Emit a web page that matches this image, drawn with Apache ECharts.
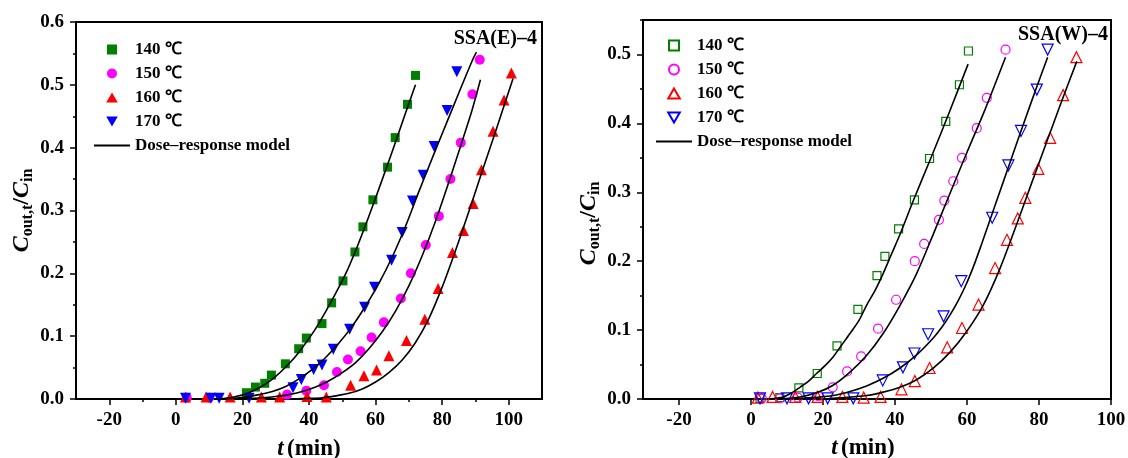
<!DOCTYPE html>
<html><head><meta charset="utf-8">
<script src="https://cdn.jsdelivr.net/npm/echarts@6/dist/echarts.min.js"></script>
<style>html,body{margin:0;padding:0;background:#fff}#c{width:1128px;height:458px}</style>
</head><body><div id="c"></div>
<script>
// ---- data: left panel SSA(E)-4 ----
const E140 = [[21.2,0.010],[23.9,0.019],[26.7,0.025],[28.7,0.038],[32.9,0.056],[36.9,0.080],[39.2,0.097],[43.9,0.120],[46.8,0.153],[50.2,0.188],[53.8,0.234],[56.2,0.274],[59.2,0.317],[63.6,0.369],[65.9,0.416],[69.6,0.469],[72.0,0.515]];
const E150 = [[3.3,0.002],[10,0.002],[33.4,0.007],[39.2,0.013],[44.5,0.022],[48.4,0.043],[51.7,0.063],[55.5,0.076],[58.8,0.098],[62.5,0.122],[67.6,0.160],[70.6,0.200],[75.1,0.245],[79.0,0.291],[82.5,0.350],[85.6,0.408],[89.1,0.485],[91.3,0.540]];
const E160 = [[2.9,0.003],[9.1,0.003],[16.3,0.003],[25.7,0.003],[31.2,0.003],[39.4,0.004],[45.2,0.003],[52.5,0.022],[56.5,0.037],[60.3,0.046],[64.0,0.069],[69.3,0.093],[74.8,0.127],[78.8,0.176],[83.1,0.233],[86.4,0.268],[89.3,0.311],[91.8,0.365],[95.3,0.426],[98.6,0.476],[100.8,0.519]];
const E170 = [[2.9,0.001],[10.5,0.001],[13,0.001],[22,0.001],[35.2,0.018],[37.7,0.031],[41.4,0.047],[43.9,0.054],[47.3,0.079],[52.2,0.111],[56.7,0.146],[59.7,0.178],[64.8,0.221],[68.0,0.265],[71.1,0.315],[74.3,0.356],[77.6,0.402],[81.5,0.459],[84.4,0.521]];
const E140fit = [[12,0],[15,0.001],[18,0.004],[21,0.008],[24,0.015],[27,0.024],[30,0.036],[33,0.051],[36,0.068],[39,0.089],[42,0.112],[45,0.139],[48,0.168],[51,0.199],[54,0.236],[57,0.277],[60,0.320],[63,0.364],[66,0.409],[69,0.455],[72,0.500]];
const E150fit = [[18,0],[22,0.001],[26,0.002],[30,0.004],[34,0.007],[38,0.012],[42,0.019],[46,0.029],[50,0.042],[54,0.058],[58,0.080],[62,0.107],[66,0.140],[70,0.180],[74,0.228],[78,0.283],[82,0.345],[86,0.410],[89,0.460],[91.5,0.508]];
const E160fit = [[35,0],[40,0.001],[44,0.002],[48,0.005],[52,0.009],[56,0.016],[60,0.027],[64,0.042],[68,0.062],[72,0.090],[76,0.128],[80,0.178],[84,0.236],[88,0.298],[92,0.362],[96,0.425],[101.3,0.510]];
const E170fit = [[13,0],[17,0.001],[21,0.003],[25,0.007],[29,0.012],[33,0.020],[37,0.032],[41,0.047],[45,0.066],[49,0.089],[53,0.116],[57,0.148],[61,0.184],[65,0.226],[69,0.275],[73,0.330],[77,0.383],[81,0.435],[85,0.487],[89,0.538],[90.3,0.552]];
// ---- data: right panel SSA(W)-4 ----
const W140 = [[2.5,0.001],[8,0.002],[13.3,0.016],[18.4,0.037],[23.9,0.077],[29.7,0.130],[35.0,0.179],[37.2,0.207],[41.0,0.247],[45.4,0.289],[49.6,0.349],[54.1,0.403],[57.9,0.456],[60.4,0.505]];
const W150 = [[3,0.001],[8,0.001],[13,0.002],[18.7,0.004],[22.7,0.017],[26.7,0.040],[30.6,0.062],[35.3,0.102],[40.3,0.144],[45.5,0.200],[48.1,0.225],[52.2,0.260],[53.7,0.288],[56.2,0.316],[58.6,0.350],[62.7,0.393],[65.5,0.437],[70.7,0.507]];
const W160 = [[1.9,0.002],[6.0,0.003],[12.3,0.003],[18.5,0.003],[25.4,0.003],[31.3,0.002],[36.0,0.003],[41.8,0.014],[45.5,0.026],[49.6,0.045],[54.5,0.075],[58.6,0.103],[63.2,0.137],[67.8,0.190],[71.1,0.231],[74.1,0.262],[76.2,0.292],[79.8,0.334],[83.1,0.379],[86.7,0.441],[90.4,0.496]];
const W170 = [[2.5,0.001],[10,0.001],[16,0.001],[21.3,0.001],[28.4,0.001],[36.6,0.027],[42.2,0.046],[45.4,0.066],[49.2,0.094],[53.5,0.120],[58.4,0.171],[67.0,0.263],[71.5,0.339],[75.0,0.389],[79.4,0.449],[82.4,0.507]];
const W140fit = [[5,0],[8.9,0.003],[11,0.008],[13.6,0.017],[16,0.026],[18.2,0.037],[20.5,0.048],[22.8,0.061],[25,0.077],[27.5,0.095],[30,0.114],[32.1,0.136],[34.5,0.158],[36.7,0.182],[39,0.210],[41.4,0.239],[45.1,0.288],[50,0.350],[55,0.415],[60.3,0.486]];
const W150fit = [[8,0],[13.6,0.003],[18.2,0.009],[22.8,0.020],[27.5,0.039],[32.1,0.063],[36.7,0.095],[41.4,0.136],[46,0.182],[50.7,0.240],[55,0.295],[60,0.358],[65,0.420],[70.7,0.496]];
const W160fit = [[20,0],[26,0.002],[32.1,0.005],[36.7,0.010],[41.4,0.017],[46,0.028],[50.7,0.045],[55.3,0.068],[59.9,0.098],[64.6,0.137],[69.2,0.190],[73.9,0.255],[78,0.314],[82,0.371],[86,0.428],[90.5,0.490]];
const W170fit = [[12,0],[17,0.002],[22.8,0.005],[27.5,0.011],[32.1,0.019],[36.7,0.030],[41.4,0.045],[46,0.064],[50.7,0.089],[53,0.104],[55.3,0.122],[57.6,0.143],[59.9,0.168],[62,0.195],[64,0.224],[66,0.254],[70,0.314],[74,0.374],[78,0.433],[82.4,0.496]];
// ---- ticks / labels ----
const xTicks = [-20,0,20,40,60,80,100];
const xMinorE = [-10,10,30,50,70,90];
const yTicksE = [0,0.1,0.2,0.3,0.4,0.5,0.6];
const yMinorE = [0.05,0.15,0.25,0.35,0.45,0.55];
const yTicksW = [0,0.1,0.2,0.3,0.4,0.5];
const yMinorW = [0.05,0.15,0.25,0.35,0.45,0.55];
const LABELS = {E140:'140 ℃',E150:'150 ℃',E160:'160 ℃',E170:'170 ℃',Efit:'Dose–response model',
                W140:'140 ℃',W150:'150 ℃',W160:'160 ℃',W170:'170 ℃',Wfit:'Dose–response model'};
const TITLES = ['SSA(E)–4','SSA(W)–4'];

const FF = '"Liberation Serif","Times New Roman",serif';
const GREEN='#007f00', PINK='#ff00ff', RED='#ff0000', BLUE='#0000ff';
const SQUARE = 'path://M0,0L10,0L10,10L0,10Z';
const UP = 'path://M5,0L10,8.66L0,8.66Z';
const DOWN = 'path://M0,0L10,0L5,8.66Z';
const LINEICON = 'path://M0,0L36,0L36,1.8L0,1.8Z';

const yNameRich = {
  c:{fontFamily:FF,fontStyle:'italic',fontWeight:'bold',fontSize:24,lineHeight:30,color:'#000'},
  s:{fontFamily:FF,fontWeight:'bold',fontSize:16,lineHeight:14,verticalAlign:'bottom',color:'#000'},
  n:{fontFamily:FF,fontWeight:'bold',fontSize:24,lineHeight:30,color:'#000'}
};
const xNameRich = {
  i:{fontFamily:FF,fontStyle:'italic',fontWeight:'bold',fontSize:23,color:'#000'},
  n:{fontFamily:FF,fontWeight:'bold',fontSize:23,color:'#000'}
};
const lbl = {color:'#000',fontFamily:FF,fontWeight:'bold',fontSize:19};
const tickLine = {color:'#000',width:1.5};

function mainX(gi,min,max,name,gap,pad){
  return {type:'value',gridIndex:gi,min:min,max:max,position:'bottom',
    axisLine:{show:true,onZero:false,lineStyle:{color:'#000',width:2}},
    axisTick:{show:true,inside:false,length:6,lineStyle:tickLine,customValues:xTicks},
    axisLabel:Object.assign({customValues:xTicks,margin:12,formatter:v=>String(v)},lbl),
    splitLine:{show:false},
    name:name,nameLocation:'middle',nameGap:gap,
    nameTextStyle:{rich:xNameRich,padding:pad}};
}
function minorX(gi,min,max,vals){
  return {type:'value',gridIndex:gi,min:min,max:max,position:'bottom',
    axisLine:{show:false,onZero:false},axisLabel:{show:false},splitLine:{show:false},
    axisTick:{show:true,inside:false,length:3,lineStyle:tickLine,customValues:vals}};
}
function mainY(gi,max,ticks,gap,pad){
  return {type:'value',gridIndex:gi,min:0,max:max,position:'left',
    axisLine:{show:true,onZero:false,lineStyle:{color:'#000',width:2}},
    axisTick:{show:true,inside:false,length:6,lineStyle:tickLine,customValues:ticks},
    axisLabel:Object.assign({customValues:ticks,margin:12,formatter:v=>v.toFixed(1)},lbl),
    splitLine:{show:false},
    name:'{c|C}{s|out,t}{n|/}{c|C}{s|in}',nameLocation:'middle',nameGap:gap,
    nameTextStyle:{rich:yNameRich,padding:pad}};
}
function minorY(gi,max,vals){
  return {type:'value',gridIndex:gi,min:0,max:max,position:'left',
    axisLine:{show:false,onZero:false},axisLabel:{show:false},splitLine:{show:false},
    axisTick:{show:true,inside:false,length:3,lineStyle:tickLine,customValues:vals}};
}
function sc(name,data,xi,yi,symbol,size,color,hollow){
  return {type:'scatter',name:name,data:data,xAxisIndex:xi,yAxisIndex:yi,symbol:symbol,symbolSize:size,
    itemStyle:hollow?{color:'rgba(255,255,255,0)',borderColor:color,borderWidth:1.2,opacity:1}:{color:color,opacity:1},
    z:2,silent:true};
}
function fit(name,data,xi,yi){
  return {type:'line',name:name,data:data,xAxisIndex:xi,yAxisIndex:yi,smooth:0.3,
    showSymbol:false,symbol:'none',lineStyle:{color:'#000',width:1.6},itemStyle:{color:'#000'},z:3,silent:true};
}
function legend(left,top,p){
  return {left:left,top:top,orient:'vertical',padding:0,itemWidth:36,itemHeight:10,itemGap:7,
    selectedMode:false,symbolKeepAspect:true,
    data:[{name:p+'140',icon:SQUARE},{name:p+'150',icon:'circle'},{name:p+'160',icon:UP},
          {name:p+'170',icon:DOWN},{name:p+'fit',icon:LINEICON}],
    formatter:n=>LABELS[n],
    textStyle:{fontFamily:FF,fontWeight:'bold',fontSize:17,lineHeight:14,color:'#000'}};
}

const chart = echarts.init(document.getElementById('c'),null,{renderer:'canvas'});
chart.setOption({
  animation:false,
  backgroundColor:'#fff',
  title:[
    {text:TITLES[0],right:591,top:29,padding:0,textStyle:{fontFamily:FF,fontWeight:'bold',fontSize:20,color:'#000'}},
    {text:TITLES[1],right:20,top:25,padding:0,textStyle:{fontFamily:FF,fontWeight:'bold',fontSize:20,color:'#000'}}
  ],
  legend:[legend(94,41,'E'),legend(656,37,'W')],
  grid:[
    {left:76,right:586,top:22,bottom:59,show:true,borderColor:'#000',borderWidth:2,containLabel:false,outerBoundsMode:'none'},
    {left:643,right:17,top:20,bottom:59,show:true,borderColor:'#000',borderWidth:2,containLabel:false,outerBoundsMode:'none'}
  ],
  xAxis:[
    mainX(0,-30,110,'{i|t} {n|(min)}',39,[0,0,0,0]),
    minorX(0,-30,110,xMinorE),
    mainX(1,-30,100,'{i|t} {n|(min)}',38,[0,28,0,0])
  ],
  yAxis:[
    mainY(0,0.6,yTicksE,38,[0,0,0,0]),
    minorY(0,0.6,yMinorE),
    mainY(1,0.55,yTicksW,35,[0,28,0,0]),
    minorY(1,0.55,yMinorW)
  ],
  series:[
    sc('E140',E140,0,0,'rect',9,GREEN,false),
    sc('E150',E150,0,0,'circle',10,PINK,false),
    sc('E160',E160,0,0,'triangle',11,RED,false),
    sc('E170',E170,0,0,DOWN,11,BLUE,false),
    fit('Efit',E140fit,0,0),fit('Efit',E150fit,0,0),fit('Efit',E160fit,0,0),fit('Efit',E170fit,0,0),
    sc('W140',W140,2,2,'rect',8,GREEN,true),
    sc('W150',W150,2,2,'circle',9,PINK,true),
    sc('W160',W160,2,2,'triangle',11,RED,true),
    sc('W170',W170,2,2,DOWN,11,BLUE,true),
    fit('Wfit',W140fit,2,2),fit('Wfit',W150fit,2,2),fit('Wfit',W160fit,2,2),fit('Wfit',W170fit,2,2)
  ]
});
</script></body></html>
